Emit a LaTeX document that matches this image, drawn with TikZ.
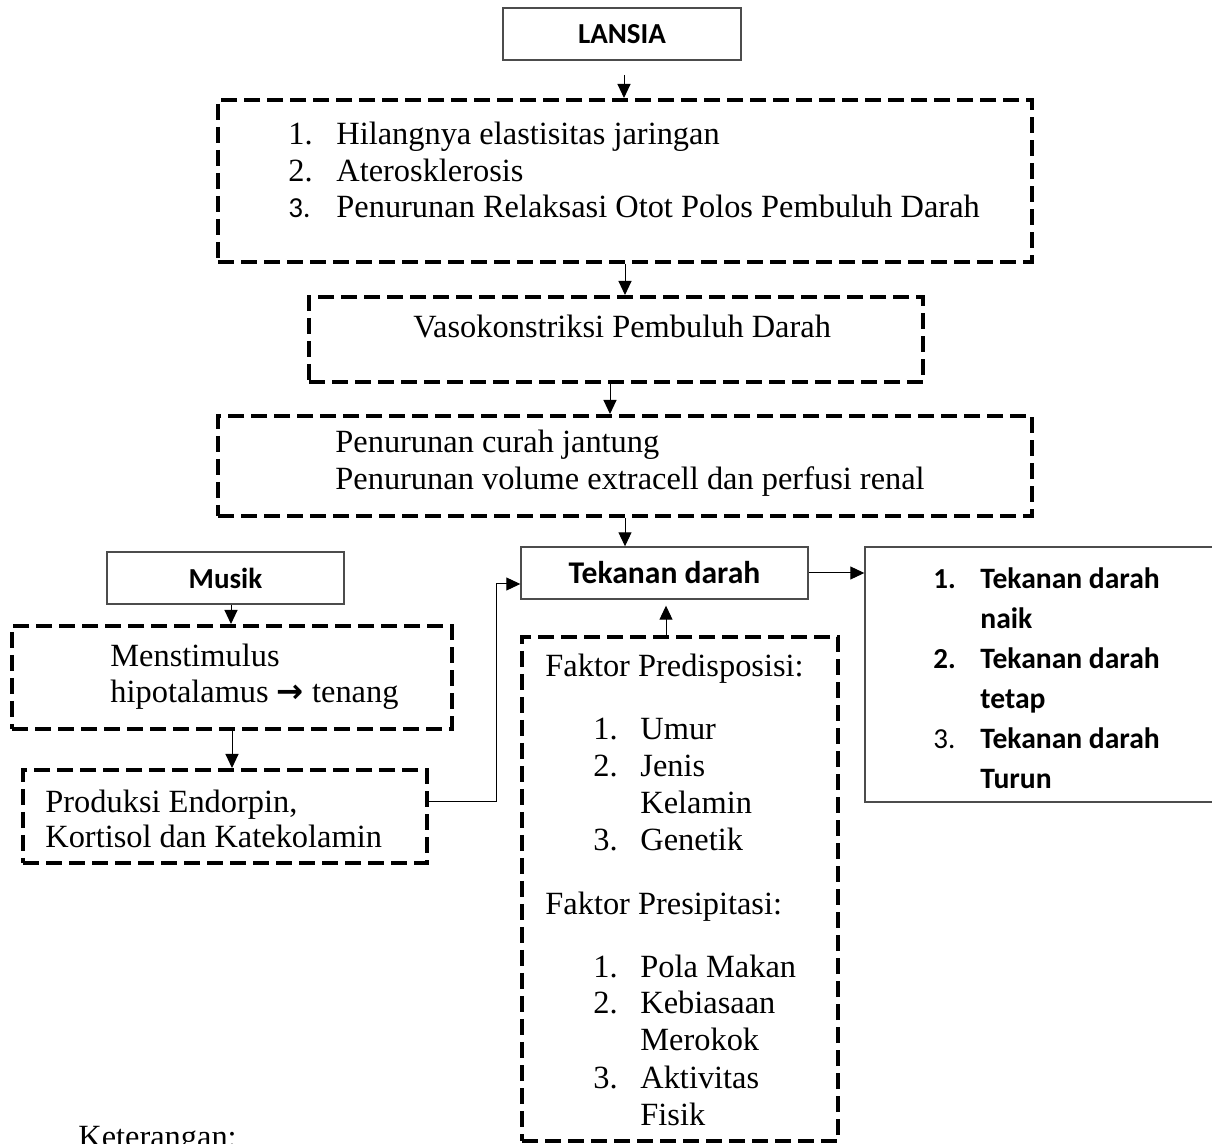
\documentclass[tikz,border=0pt]{standalone}
\usepackage{fontspec}
\setmainfont{Liberation Serif}
\newfontfamily\labelfont{Carlito}
\newfontfamily\symfont{DejaVu Sans}
\usetikzlibrary{positioning,calc,arrows.meta}

\tikzset{
  solidbox/.style={draw=black!70, line width=0.7pt, inner sep=0pt},
  dashbox/.style={draw, line width=2pt, dash pattern=on 8pt off 3.5pt, inner sep=0pt},
  arr/.style={line width=0.5pt, -{Triangle[length=7pt,width=6.5pt]}},
  body/.style={anchor=base west, inner sep=0pt, font=\fontsize{16.2}{18.5}\selectfont},
  labeltext/.style={inner sep=0pt, font=\labelfont\bfseries\fontsize{14.5}{17}\selectfont},
  listnum/.style={anchor=base west, inner sep=0pt, font=\labelfont\fontsize{14.5}{17}\selectfont},
}

\begin{document}
\begin{tikzpicture}[x=0.5pt,y=-0.5pt]
    \useasboundingbox (0,0) rectangle (1212,1144);

    % jalur utama
    \node[solidbox, labeltext, minimum width=119pt, minimum height=26pt] at (622,34) (lansia) {LANSIA};

    \node[dashbox, minimum width=407pt, minimum height=81pt] at (625,181) (perubahan) {};
    \foreach \i/\txt/\y in {1/Hilangnya elastisitas jaringan/145, 2/Aterosklerosis/182} {
        \node[body] at (288,\y) (pn\i) {\i.};
        \node[body] at (336,\y) (pt\i) {\txt};
    }
    \node[listnum] at (288,218) (pn3) {3.};
    \node[body] at (336,218) (pt3) {Penurunan Relaksasi Otot Polos Pembuluh Darah};

    \node[dashbox, minimum width=307pt, minimum height=42.5pt] at (616,339.5) (vaso) {};
    \node[body] at (413,338) (vasoT) {Vasokonstriksi Pembuluh Darah};

    \node[dashbox, minimum width=407pt, minimum height=50pt] at (625,466) (curah) {};
    \node[body] at (335,453) (curah1) {Penurunan curah jantung};
    \node[body] at (335,490) (curah2) {Penurunan volume extracell dan perfusi renal};

    \node[solidbox, labeltext, font=\labelfont\bfseries\fontsize{15.8}{18}\selectfont, minimum width=143.5pt, minimum height=26pt] at (664.5,573) (tekanan) {Tekanan darah};

    % hasil
    \node[solidbox, minimum width=182.5pt, minimum height=127.5pt] at (1047.5,674.5) (hasil) {};
    \node[listnum, font=\labelfont\bfseries\fontsize{14.5}{17}\selectfont] at (933,589) (hn1) {1.};
    \node[listnum, font=\labelfont\bfseries\fontsize{14.5}{17}\selectfont] at (933,669) (hn2) {2.};
    \node[listnum] at (933,749) (hn3) {3.};
    \foreach \i/\txt/\y in {1/Tekanan darah/589, 2/naik/629, 3/Tekanan darah/669, 4/tetap/709, 5/Tekanan darah/749, 6/Turun/789} {
        \node[listnum, font=\labelfont\bfseries\fontsize{14.8}{17}\selectfont] at (980,\y) (ht\i) {\txt};
    }

    % musik
    \node[solidbox, labeltext, minimum width=118.5pt, minimum height=26pt] at (225.5,578) (musik) {Musik};

    \node[dashbox, minimum width=220pt, minimum height=51.5pt] at (232,677.5) (stim) {};
    \node[body] at (110,667) (stim1) {Menstimulus};
    \node[body] at (110,703) (stim2) {hipotalamus {\symfont\bfseries →} tenang};

    \node[dashbox, minimum width=202pt, minimum height=46.5pt] at (225,816.5) (prod) {};
    \node[body] at (45,813) (prod1) {Produksi Endorpin,};
    \node[body] at (45,848) (prod2) {Kortisol dan Katekolamin};

    % faktor
    \node[dashbox, minimum width=158pt, minimum height=252pt] at (680,889) (faktor) {};
    \node[body] at (545,677) (pre) {Faktor Predisposisi:};
    \foreach \i/\txt/\y in {1/Umur/740, 2/Jenis/777, 3/Genetik/851} {
        \node[body] at (593,\y) (fn\i) {\i.};
        \node[body] at (640,\y) (ft\i) {\txt};
    }
    \node[body] at (640,814) (ft2b) {Kelamin};
    \node[body] at (545,914) (pres) {Faktor Presipitasi:};
    \foreach \i/\txt/\y in {1/Pola Makan/978, 2/Kebiasaan/1014, 3/Aktivitas/1088} {
        \node[body] at (593,\y) (gn\i) {\i.};
        \node[body] at (640,\y) (gt\i) {\txt};
    }
    \node[body] at (640,1051) (gt2b) {Merokok};
    \node[body] at (640,1125) (gt3b) {Fisik};

    \node[body] at (78,1147) (ket) {Keterangan:};

    % panah
    \coordinate (l1) at (624,75);
    \draw[arr] (l1) -- (l1 |- perubahan.north);
    \draw[arr] (perubahan.south) -- (perubahan.south |- vaso.north);
    \coordinate (v1) at ([xshift=-3pt]vaso.south);
    \draw[arr] (v1) -- (v1 |- curah.north);
    \draw[arr] (curah.south) -- (curah.south |- tekanan.north);
    \draw[arr] (tekanan.east) -- (tekanan.east -| hasil.west);
    \coordinate (m1) at ([xshift=2.75pt]musik.south);
    \draw[arr] (m1) -- (m1 |- stim.north);
    \draw[arr] (stim.south) -- (stim.south |- prod.north);
    \coordinate (p1) at ([yshift=7.25pt]prod.east);
    \coordinate (t1) at ([yshift=-5.5pt]tekanan.west);
    \draw[arr] (p1) -- ++(67,0) |- (t1);
    \coordinate (f1) at ([xshift=-7pt]faktor.north);
    \draw[arr, shorten >=3pt] (f1) -- (f1 |- tekanan.south);
\end{tikzpicture}
\end{document}
